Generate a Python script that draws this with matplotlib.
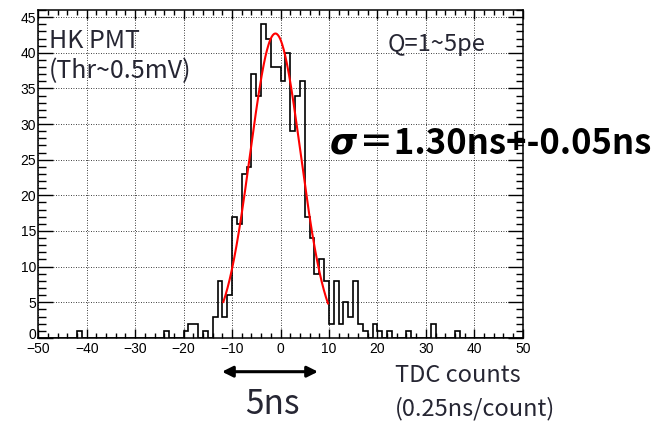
import numpy as np
import matplotlib
matplotlib.use("Agg")
import matplotlib.pyplot as plt
import matplotlib.transforms as mtransforms
from matplotlib.ticker import MultipleLocator

# ---- data (TDC histogram, 1-count bins from -50 to 50) ----
bin_lo, bin_hi = -50, 50
nonzero_bins = [-42, -24, -20, -19, -18, -16, -14, -13, -12, -11, -10, -9, -8, -7, -6, -5,
                -4, -3, -2, -1, 0, 1, 2, 3, 4, 5, 6, 7, 8, 9, 10, 11, 12, 13, 14, 15, 16,
                17, 19, 20, 22, 26, 31, 36]
nonzero_counts = [1, 1, 1, 2, 2, 1, 3, 8, 3, 6, 17, 16, 23, 24, 37, 34,
                  44, 42, 38, 38, 36, 40, 29, 34, 36, 17, 14, 9, 11, 8, 2, 8, 2, 5, 3, 8, 2,
                  1, 2, 1, 1, 1, 2, 1]
# Gaussian fit parameters (counts units)
fit_amp = 42.7
fit_mean = -1.05
fit_sigma = 5.2
fit_range = (-11.8, 9.8)

x_ticks_major = 10
y_ticks_major = 5

edges = np.arange(bin_lo, bin_hi + 1)
counts = np.zeros(len(edges) - 1)
for b, c in zip(nonzero_bins, nonzero_counts):
    counts[b - bin_lo] = c

W, H = 666, 422
fig = plt.figure(figsize=(W / 100, H / 100), dpi=100)
L, R, T, B = 38.3, 522.7, 10.0, 337.9
ax = fig.add_axes([L / W, 1 - B / H, (R - L) / W, (B - T) / H])

ax.stairs(counts, edges, color="black", lw=1.2, baseline=0)

xf = np.linspace(fit_range[0], fit_range[1], 200)
yf = fit_amp * np.exp(-0.5 * ((xf - fit_mean) / fit_sigma) ** 2)
ax.plot(xf, yf, color="red", lw=1.5)

ax.set_xlim(bin_lo, bin_hi)
ax.set_ylim(0, 46.0)
ax.xaxis.set_major_locator(MultipleLocator(x_ticks_major))
ax.xaxis.set_minor_locator(MultipleLocator(2))
ax.yaxis.set_major_locator(MultipleLocator(y_ticks_major))
ax.yaxis.set_minor_locator(MultipleLocator(1))
ax.grid(True, which="major", linestyle=(0, (1, 2)), color="black", lw=0.6)
ax.tick_params(which="both", direction="in", top=True, right=True, width=1.0)
ax.tick_params(axis="y", which="major", length=10.8, pad=1.5)
ax.tick_params(axis="y", which="minor", length=5.4)
ax.tick_params(axis="x", which="major", length=6.5, pad=3)
ax.tick_params(axis="x", which="minor", length=3.5)
for lab in ax.get_xticklabels() + ax.get_yticklabels():
    lab.set_fontfamily("Liberation Sans")
    lab.set_fontsize(10)
for s in ax.spines.values():
    s.set_linewidth(1.1)

# nudge the y "0" label up slightly so it does not collide with "-50"
fig.canvas.draw()
for tk in ax.yaxis.get_major_ticks():
    if abs(tk.get_loc()) < 1e-9:
        lab = tk.label1
        lab.set_transform(lab.get_transform() +
                          mtransforms.ScaledTranslation(0, 3 / 72, fig.dpi_scale_trans))

jp = ["Noto Sans CJK JP", "DejaVu Sans"]
tc = "#262633"

def ftext(x, y, s, **kw):
    return fig.text(x / W, 1 - y / H, s, **kw)

ftext(49, 40.5, "HK PMT", fontsize=18, family=jp, color=tc, va="center", ha="left")
ftext(49, 71, "(Thr~0.5mV)", fontsize=18, family=jp, color=tc, va="center", ha="left")
ftext(388, 45, "Q=1~5pe", fontsize=17, family=jp, color=tc, va="center", ha="left")

sig = ftext(330, 143, "σ", fontsize=25, family="DejaVu Sans", weight="bold",
            style="italic", color="black", va="center", ha="left")
fig.canvas.draw()
bb = sig.get_window_extent()
ftext(bb.x1 + 2, 143, "＝1.30ns+-0.05ns", fontsize=25, family=jp, weight="bold",
      color="black", va="center", ha="left")

ftext(272, 405, "5ns", fontsize=24, family=jp, color=tc, va="center", ha="center")
ftext(395, 376, "TDC counts", fontsize=17, family=jp, color=tc, va="center", ha="left")
ftext(395, 409, "(0.25ns/count)", fontsize=17, family=jp, color=tc, va="center", ha="left")

ax.annotate("", xy=(318 / W, 1 - 371.7 / H), xytext=(222 / W, 1 - 371.7 / H),
            xycoords="figure fraction", textcoords="figure fraction",
            arrowprops=dict(arrowstyle="<|-|>", lw=2.2, color="black",
                            mutation_scale=16, shrinkA=0, shrinkB=0),
            annotation_clip=False)

fig.savefig("out.png", dpi=100)
